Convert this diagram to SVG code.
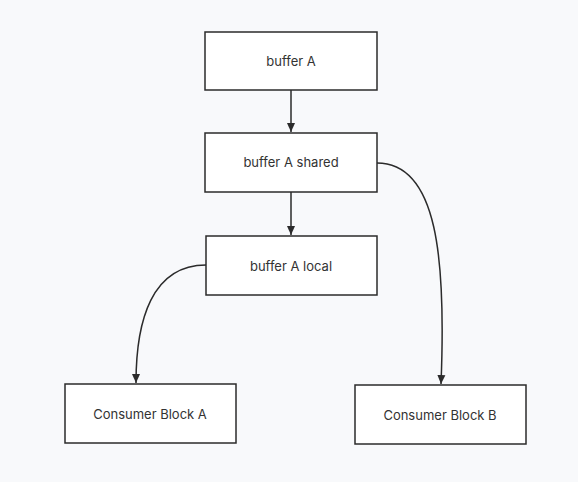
<svg xmlns="http://www.w3.org/2000/svg" width="578" height="482" viewBox="0 0 578 482">
<style>
.box{fill:#ffffff;stroke:#2b2b2b;stroke-width:1.5}
.lbl{font-family:Inter,"Noto Sans",sans-serif;font-size:13px;fill:#333;text-anchor:middle;dominant-baseline:central}
.edge{fill:none;stroke:#2b2b2b;stroke-width:1.5}
</style>
<defs>
<marker id="arr" markerWidth="10" markerHeight="10" refX="9" refY="5" orient="auto" markerUnits="userSpaceOnUse">
<path d="M0,1 L9,5 L0,9 z" fill="#2b2b2b"/>
</marker>
</defs>
<rect width="578" height="482" fill="#f8f9fb"/>
<g id="connectors">
<path class="edge" d="M291,90 L291,132" marker-end="url(#arr)"/>
<path class="edge" d="M291,192 L291,235" marker-end="url(#arr)"/>
<path class="edge" d="M206,265 C152,265 136,320 136,383" marker-end="url(#arr)"/>
<path class="edge" d="M377,163 C438,163 446,260 441,384" marker-end="url(#arr)"/>
</g>
<g id="bufferA"><rect class="box" x="205" y="32" width="172" height="58"/><text class="lbl" x="291" y="61">buffer A</text></g>
<g id="bufferAshared"><rect class="box" x="205" y="133" width="172" height="59"/><text class="lbl" x="291" y="162">buffer A shared</text></g>
<g id="bufferAlocal"><rect class="box" x="206" y="236" width="171" height="59"/><text class="lbl" x="291" y="266">buffer A local</text></g>
<g id="consumerA"><rect class="box" x="65" y="384" width="171" height="59"/><text class="lbl" x="150" y="414">Consumer Block A</text></g>
<g id="consumerB"><rect class="box" x="355" y="385" width="171" height="59"/><text class="lbl" x="440" y="415">Consumer Block B</text></g>
</svg>
